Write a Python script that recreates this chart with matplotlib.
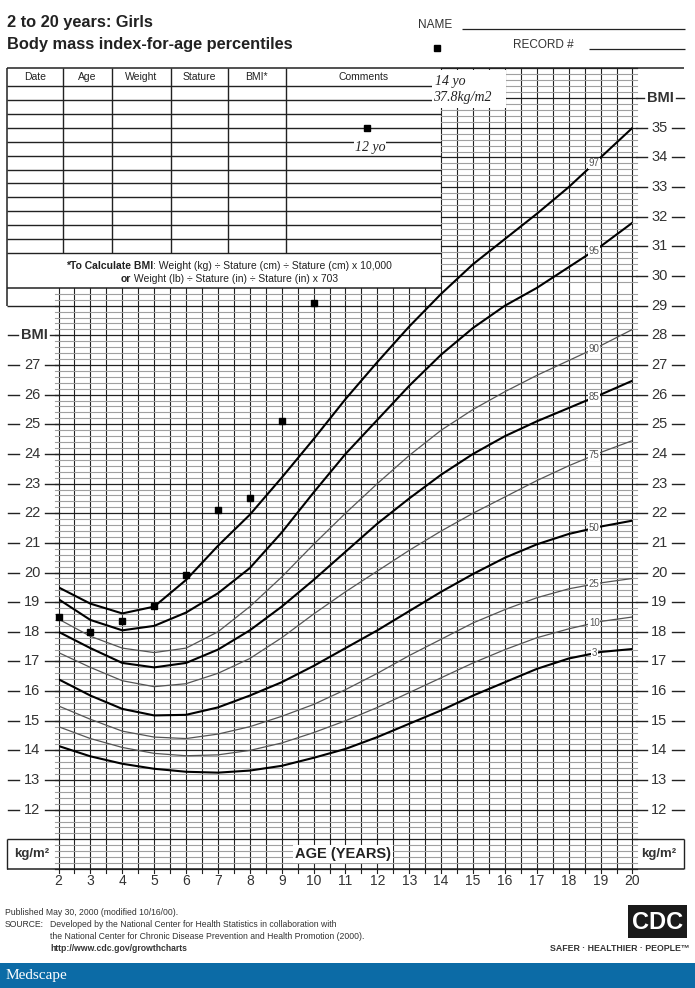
import matplotlib
matplotlib.use("Agg")
import matplotlib.pyplot as plt
import numpy as np
from matplotlib.patches import Rectangle
from matplotlib.transforms import blended_transform_factory

plt.rcParams['font.family'] = ['Liberation Sans', 'DejaVu Sans']

# ---- data ----
ages = np.arange(2, 21)
p97 = [19.5, 18.95, 18.62, 18.85, 19.75, 20.9, 21.95, 23.2, 24.5, 25.85, 27.1, 28.3, 29.4, 30.4, 31.25, 32.1, 33.0, 34.0, 35.0]
p95 = [19.1, 18.4, 18.05, 18.2, 18.65, 19.3, 20.15, 21.35, 22.7, 24.0, 25.15, 26.3, 27.35, 28.25, 29.0, 29.6, 30.3, 31.0, 31.8]
p90 = [18.43, 17.85, 17.45, 17.3, 17.45, 18.0, 18.85, 19.85, 20.95, 22.0, 23.0, 23.95, 24.8, 25.5, 26.1, 26.65, 27.15, 27.65, 28.2]
p85 = [18.0, 17.45, 16.95, 16.8, 16.95, 17.4, 18.05, 18.85, 19.75, 20.7, 21.65, 22.5, 23.3, 24.0, 24.6, 25.1, 25.55, 26.0, 26.47]
p75 = [17.3, 16.8, 16.35, 16.15, 16.25, 16.6, 17.1, 17.8, 18.6, 19.35, 20.05, 20.75, 21.4, 22.0, 22.55, 23.1, 23.6, 24.05, 24.45]
p50 = [16.4, 15.85, 15.4, 15.18, 15.2, 15.45, 15.85, 16.3, 16.85, 17.45, 18.05, 18.7, 19.35, 19.95, 20.5, 20.95, 21.3, 21.55, 21.75]
p25 = [15.5, 15.05, 14.65, 14.45, 14.4, 14.55, 14.8, 15.15, 15.55, 16.05, 16.6, 17.2, 17.75, 18.3, 18.75, 19.15, 19.45, 19.65, 19.8]
p10 = [14.8, 14.4, 14.1, 13.9, 13.82, 13.85, 14.0, 14.25, 14.6, 15.0, 15.45, 15.95, 16.45, 16.95, 17.4, 17.8, 18.1, 18.35, 18.5]
p3 = [14.15, 13.8, 13.55, 13.38, 13.28, 13.25, 13.32, 13.48, 13.75, 14.05, 14.45, 14.9, 15.35, 15.85, 16.3, 16.75, 17.1, 17.32, 17.42]

pct_names = ['97', '95', '90', '85', '75', '50', '25', '10', '3']
pct_curves = [p97, p95, p90, p85, p75, p50, p25, p10, p3]
pct_heavy = [True, True, False, True, False, True, False, False, True]

pt_age = [2.0, 3.0, 4.0, 5.0, 6.0, 7.0, 8.0, 9.0, 10.0, 11.67, 13.86]
pt_bmi = [18.5, 18.0, 18.35, 18.88, 19.9, 22.12, 22.5, 25.12, 29.1, 35.0, 37.7]

col_names = ['Date', 'Age', 'Weight', 'Stature', 'BMI*', 'Comments']
left_bmi = list(range(12, 28))
right_bmi = list(range(12, 36))
age_ticks = list(range(2, 21))

# ---- figure ----
W, H = 695, 988
fig = plt.figure(figsize=(W / 100, H / 100), dpi=100)

page = fig.add_axes([0, 0, 1, 1], zorder=0)
page.set_xlim(0, W)
page.set_ylim(H, 0)
page.axis('off')

X0, X1 = 58.5, 632.5      # age 2 / age 20
Y10, Y37 = 869.0, 68.5    # bmi 10 / bmi 37
ax = fig.add_axes([X0 / W, 1 - Y10 / H, (X1 - X0) / W, (Y10 - Y37) / H], zorder=1)
ax.set_xlim(2, 20)
ax.set_ylim(10, 37)
ax.axis('off')
ax.patch.set_alpha(0)

def px(age):
    return X0 + (age - 2) * (X1 - X0) / 18

def py(bmi):
    return Y10 - (bmi - 10) * (Y10 - Y37) / 27

TAB_AGE, TAB_BMI = 14, 29.6
INK = '#222222'
GREY = '#333333'

# grid
for a in np.arange(2, 20.01, 0.5):
    top = TAB_BMI if a < TAB_AGE else 37
    ax.plot([a, a], [9.88, top], color=INK, lw=0.8, clip_on=False, zorder=1)
for b in np.round(np.arange(100, 371, 2) / 10, 1):
    if abs(b - TAB_BMI) < 1e-6:
        continue
    left = 1.88 if b < TAB_BMI else TAB_AGE
    major = abs(b - round(b)) < 1e-6
    ax.plot([left, 20.13], [b, b], color=INK if major else '#a0a0a0',
            lw=0.9 if major else 0.8, clip_on=False, zorder=1)

# percentile curves
for name, c, heavy in zip(pct_names, pct_curves, pct_heavy):
    ax.plot(ages, c, color='black' if heavy else '#555555', lw=1.5 if heavy else 0.9,
            solid_joinstyle='round', zorder=3)
    ax.text(18.8, np.interp(18.8, ages, c), name, fontsize=7, color='#555555',
            ha='center', va='center', zorder=4,
            bbox=dict(fc='white', ec='none', pad=0.4))

# measured points
ax.plot(pt_age, pt_bmi, 's', color='black', ms=4.3, clip_on=False, zorder=6)

# ---- page furniture ----
def line(x, y, lw=1.0, color=INK):
    page.plot(x, y, color=color, lw=lw, solid_capstyle='butt')

cols = [7, 62.7, 111.7, 170.7, 227.7, 285.7, px(TAB_AGE)]
rows = [86 + 13.92 * k for k in range(13)]
line([7, 684], [Y37, Y37], 1.1)
line([7, 7], [Y37, py(29)], 1.1)
for x in cols[1:-1]:
    line([x, x], [Y37, rows[-1]], 1.0)
for y in rows:
    line([7, cols[-1]], [y, y], 1.0)
line([7, cols[-1]], [py(TAB_BMI), py(TAB_BMI)], 1.1)
line([7, X0], [py(29), py(29)], 1.0)
for c0, c1, name in zip(cols[:-1], cols[1:], col_names):
    page.text((c0 + c1) / 2, 77.5, name, fontsize=7.5, ha='center', va='center', color=INK)

# BMI formula
renderer = fig.canvas.get_renderer()

def two_part(xc, y, bold, normal, fs):
    t1 = page.text(0, y, bold, fontsize=fs, fontweight='bold', ha='left', va='center', color=INK)
    t2 = page.text(0, y, normal, fontsize=fs, ha='left', va='center', color=INK)
    w1 = t1.get_window_extent(renderer).width
    w2 = t2.get_window_extent(renderer).width
    x0 = xc - (w1 + w2) / 2
    t1.set_x(x0)
    t2.set_x(x0 + w1)

two_part(229, 265.5, '*To Calculate BMI', ': Weight (kg) \u00f7 Stature (cm) \u00f7 Stature (cm) x 10,000', 7.5)
two_part(229, 278.5, 'or', ' Weight (lb) \u00f7 Stature (in) \u00f7 Stature (in) x 703', 7.5)

# bottom boxes
line([7, X0], [py(11), py(11)], 1.0)
line([X1, 684], [py(11), py(11)], 1.0)
line([7, 684], [Y10, Y10], 1.1)
line([7, 7], [py(11), Y10], 1.0)
line([684, 684], [py(11), Y10], 1.0)

# side labels
tr = blended_transform_factory(page.transData, ax.transData)
for b in left_bmi:
    ax.text(32, b, str(b), transform=tr, fontsize=10.5, ha='center', va='center', color=GREY)
    ax.plot([8, 19], [b, b], transform=tr, color=INK, lw=1.0, clip_on=False)
    ax.plot([45, X0], [b, b], transform=tr, color=INK, lw=1.0, clip_on=False)
for b in right_bmi:
    ax.text(659.5, b, str(b), transform=tr, fontsize=10.5, ha='center', va='center', color=GREY)
    ax.plot([X1 + 3, 647], [b, b], transform=tr, color=INK, lw=1.0, clip_on=False)
    ax.plot([672, 684], [b, b], transform=tr, color=INK, lw=1.0, clip_on=False)

ax.text(34, 28, 'BMI', transform=tr, fontsize=10.5, fontweight='bold', ha='center', va='center', color=GREY)
ax.plot([8, 18], [28, 28], transform=tr, color=INK, lw=1.0, clip_on=False)
ax.plot([50, X0], [28, 28], transform=tr, color=INK, lw=1.0, clip_on=False)
ax.text(660, 36, 'BMI', transform=tr, fontsize=10.5, fontweight='bold', ha='center', va='center', color=GREY)
ax.plot([X1 + 3, 644], [36, 36], transform=tr, color=INK, lw=1.0, clip_on=False)
ax.plot([676, 684], [36, 36], transform=tr, color=INK, lw=1.0, clip_on=False)

ax.text(32, 10.5, 'kg/m\u00b2', transform=tr, fontsize=9.5, fontweight='bold', ha='center', va='center', color=GREY)
ax.text(659, 10.5, 'kg/m\u00b2', transform=tr, fontsize=9.5, fontweight='bold', ha='center', va='center', color=GREY)
ax.text(10.92, 10.52, 'AGE (YEARS)', fontsize=10.5, fontweight='bold', ha='center', va='center',
        color=INK, zorder=5, bbox=dict(fc='white', ec='none', pad=1.5))

tr2 = blended_transform_factory(ax.transData, page.transData)
for a in age_ticks:
    ax.text(a, 881, str(a), transform=tr2, fontsize=10, ha='center', va='center', color=GREY)

# handwritten notes
ax.add_patch(Rectangle((432, 70.5), 74, 38, transform=page.transData, fc='white', ec='none',
                       zorder=2.5, clip_on=False))
serif = ['Liberation Serif', 'DejaVu Serif']
ax.text(435, 82, '14 yo', transform=page.transData, family=serif, style='italic', fontsize=10,
        ha='left', va='center', color=INK, zorder=3)
ax.text(433, 98, '37.8kg/m2', transform=page.transData, family=serif, style='italic', fontsize=10,
        ha='left', va='center', color=INK, zorder=3)
page.text(370, 147, '12 yo', family=serif, style='italic', fontsize=10, ha='center', va='center',
          color=INK, zorder=3, bbox=dict(fc='white', ec='none', pad=0.5))

# header
page.text(7, 22, '2 to 20 years: Girls', fontsize=11.8, fontweight='bold', ha='left', va='center', color=INK)
page.text(7, 44, 'Body mass index-for-age percentiles', fontsize=11.8, fontweight='bold', ha='left', va='center', color=INK)
page.text(418, 24.5, 'NAME', fontsize=8.5, ha='left', va='center', color=GREY)
line([462, 685], [29.5, 29.5], 0.9)
page.text(513, 44.5, 'RECORD #', fontsize=8.5, ha='left', va='center', color=GREY)
line([589, 685], [49.5, 49.5], 0.9)

# footer
fs = 6.2
page.text(5, 912, 'Published May 30, 2000 (modified 10/16/00).', fontsize=fs, ha='left', va='center', color=GREY)
page.text(5, 924, 'SOURCE:', fontsize=fs, ha='left', va='center', color=GREY)
page.text(50, 924, 'Developed by the National Center for Health Statistics in collaboration with',
          fontsize=fs, ha='left', va='center', color=GREY)
page.text(50, 936, 'the National Center for Chronic Disease Prevention and Health Promotion (2000).',
          fontsize=fs, ha='left', va='center', color=GREY)
page.text(50, 948, 'http://www.cdc.gov/growthcharts', fontsize=fs, fontweight='bold', ha='left', va='center',
          color=GREY)

page.add_patch(Rectangle((628, 905), 59, 33, fc='#1a1a1a', ec='none'))
page.text(657.5, 922, 'CDC', fontsize=17, fontweight='bold', ha='center', va='center', color='white')
page.text(690, 948, 'SAFER \u00b7 HEALTHIER \u00b7 PEOPLE\u2122', fontsize=6.3, fontweight='bold',
          ha='right', va='center', color=GREY)

page.add_patch(Rectangle((0, 963), W, 25, fc='#0c6ba6', ec='none'))
page.text(6, 975.5, 'Medscape', family=serif, fontsize=11, ha='left', va='center', color='white')

fig.savefig('out.png', dpi=100)
